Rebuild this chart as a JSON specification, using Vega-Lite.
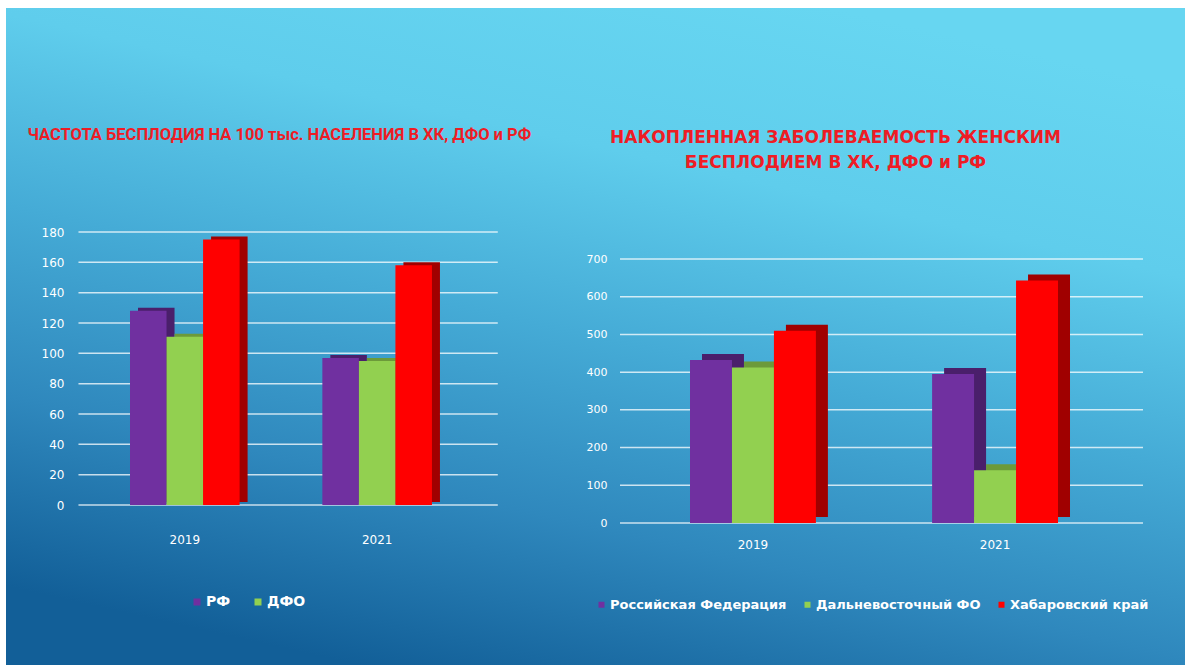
{
  "$schema": "https://vega.github.io/schema/vega-lite/v6.json",
  "width": 1179,
  "height": 657,
  "autosize": {"type": "none"},
  "padding": {"left": 6, "top": 8, "right": 4, "bottom": 1},
  "background": "white",
  "view": {
    "stroke": null,
    "fill": {
      "gradient": "linear",
      "x1": 0.7, "y1": 0, "x2": 0.3, "y2": 1,
      "stops": [
        {"offset": 0, "color": "#67d6f1"},
        {"offset": 0.25, "color": "#5fcdec"},
        {"offset": 0.5, "color": "#45abd6"},
        {"offset": 0.75, "color": "#2f88bd"},
        {"offset": 1, "color": "#125f98"}
      ]
    }
  },
  "config": {
    "axis": {
      "domain": false, "ticks": false, "grid": false,
      "labelColor": "white", "labelFont": "DejaVu Sans", "labelFontSize": 12,
      "labelPadding": 6
    },
    "legend": {
      "labelColor": "white", "labelFont": "DejaVu Sans", "labelFontWeight": "bold", "labelLimit": 0,
      "symbolType": "square", "symbolStrokeWidth": 0, "title": null
    }
  },
  "datasets": {
    "bars": [
      {"chart": "L", "year": "2019", "series": "РФ", "value": 128},
      {"chart": "L", "year": "2019", "series": "ДФО", "value": 111},
      {"chart": "L", "year": "2019", "series": "ХК", "value": 175},
      {"chart": "L", "year": "2021", "series": "РФ", "value": 97},
      {"chart": "L", "year": "2021", "series": "ДФО", "value": 95},
      {"chart": "L", "year": "2021", "series": "ХК", "value": 158},
      {"chart": "R", "year": "2019", "series": "Российская Федерация", "value": 432},
      {"chart": "R", "year": "2019", "series": "Дальневосточный ФО", "value": 412},
      {"chart": "R", "year": "2019", "series": "Хабаровский край", "value": 510},
      {"chart": "R", "year": "2021", "series": "Российская Федерация", "value": 395},
      {"chart": "R", "year": "2021", "series": "Дальневосточный ФО", "value": 140},
      {"chart": "R", "year": "2021", "series": "Хабаровский край", "value": 643}
    ],
    "grid": [
      {"chart": "L", "g": 0}, {"chart": "L", "g": 20}, {"chart": "L", "g": 40}, {"chart": "L", "g": 60},
      {"chart": "L", "g": 80}, {"chart": "L", "g": 100}, {"chart": "L", "g": 120}, {"chart": "L", "g": 140},
      {"chart": "L", "g": 160}, {"chart": "L", "g": 180},
      {"chart": "R", "g": 0}, {"chart": "R", "g": 100}, {"chart": "R", "g": 200}, {"chart": "R", "g": 300},
      {"chart": "R", "g": 400}, {"chart": "R", "g": 500}, {"chart": "R", "g": 600}, {"chart": "R", "g": 700}
    ]
  },
  "layer": [
    {
      "layer": [
        {
          "data": {"name": "grid"},
          "transform": [{"filter": "datum.chart === 'L'"}],
          "mark": {"type": "rule", "color": "white", "strokeWidth": 1.5, "opacity": 0.75},
          "encoding": {
            "y": {"field": "g", "type": "quantitative",
              "scale": {"domain": [0, 180], "range": [497, 224], "nice": false, "zero": true},
              "axis": {"orient": "left", "offset": -64, "values": [0, 20, 40, 60, 80, 100, 120, 140, 160, 180],
                "title": "ЧАСТОТА БЕСПЛОДИЯ НА 100 тыс. НАСЕЛЕНИЯ В ХК, ДФО и РФ",
                "titleAngle": 0, "titleX": -43, "titleY": 126, "titleAlign": "left", "titleBaseline": "middle",
                "titleColor": "#ee1c25", "titleFont": "Roboto", "titleFontSize": 16.5, "titleFontWeight": "bold"}},
            "x": {"datum": "2019", "type": "nominal", "bandPosition": -0.47,
              "scale": {"type": "band", "domain": ["2019", "2021"], "range": [124, 426], "paddingInner": 0.43, "paddingOuter": 0},
              "axis": {"orient": "bottom", "offset": -137, "title": null, "labelAngle": 0}},
            "x2": {"datum": "2021", "bandPosition": 1.6}
          }
        },
        {
          "data": {"name": "bars"},
          "transform": [{"filter": "datum.chart === 'L'"}],
          "mark": {"type": "bar", "yOffset": -3, "y2Offset": -3},
          "encoding": {
            "x": {"field": "year", "type": "nominal",
              "scale": {"type": "band", "domain": ["2019", "2021"], "range": [124, 426], "paddingInner": 0.43, "paddingOuter": 0},
              "axis": {"orient": "bottom", "offset": -137, "title": null, "labelAngle": 0}},
            "xOffset": {"field": "series", "type": "nominal",
              "scale": {"type": "band", "domain": ["РФ", "ДФО", "ХК"], "range": [8, 117.6], "paddingInner": 0, "paddingOuter": 0}},
            "y": {"field": "value", "type": "quantitative",
              "scale": {"domain": [0, 180], "range": [497, 224], "nice": false, "zero": true},
              "axis": {"orient": "left", "offset": -64, "values": [0, 20, 40, 60, 80, 100, 120, 140, 160, 180],
                "title": "ЧАСТОТА БЕСПЛОДИЯ НА 100 тыс. НАСЕЛЕНИЯ В ХК, ДФО и РФ",
                "titleAngle": 0, "titleX": -43, "titleY": 126, "titleAlign": "left", "titleBaseline": "middle",
                "titleColor": "#ee1c25", "titleFont": "Roboto", "titleFontSize": 16.5, "titleFontWeight": "bold"}},
            "color": {"field": "series", "type": "nominal",
              "scale": {"domain": ["РФ", "ДФО", "ХК"], "range": ["#4a1f6b", "#6c9a3a", "#a00000"]},
              "legend": null}
          }
        },
        {
          "data": {"name": "bars"},
          "transform": [{"filter": "datum.chart === 'L'"}],
          "mark": {"type": "bar"},
          "encoding": {
            "x": {"field": "year", "type": "nominal",
              "scale": {"type": "band", "domain": ["2019", "2021"], "range": [124, 426], "paddingInner": 0.43, "paddingOuter": 0},
              "axis": {"orient": "bottom", "offset": -137, "title": null, "labelAngle": 0}},
            "xOffset": {"field": "series", "type": "nominal",
              "scale": {"type": "band", "domain": ["РФ", "ДФО", "ХК"], "range": [0, 109.6], "paddingInner": 0, "paddingOuter": 0}},
            "y": {"field": "value", "type": "quantitative",
              "scale": {"domain": [0, 180], "range": [497, 224], "nice": false, "zero": true},
              "axis": {"orient": "left", "offset": -64, "values": [0, 20, 40, 60, 80, 100, 120, 140, 160, 180],
                "title": "ЧАСТОТА БЕСПЛОДИЯ НА 100 тыс. НАСЕЛЕНИЯ В ХК, ДФО и РФ",
                "titleAngle": 0, "titleX": -43, "titleY": 126, "titleAlign": "left", "titleBaseline": "middle",
                "titleColor": "#ee1c25", "titleFont": "Roboto", "titleFontSize": 16.5, "titleFontWeight": "bold"}},
            "color": {"field": "series", "type": "nominal",
              "scale": {"domain": ["РФ", "ДФО", "ХК"], "range": ["#7030a0", "#92d050", "#ff0000"]},
              "legend": {"values": ["РФ", "ДФО"], "orient": "none", "legendX": 184, "legendY": 587, "direction": "horizontal",
                "labelFontSize": 14, "symbolSize": 49, "labelOffset": 2, "columnPadding": 20}}
          }
        }
      ],
      "resolve": {"scale": {"color": "independent", "xOffset": "independent"}}
    },
    {
      "layer": [
        {
          "data": {"name": "grid"},
          "transform": [{"filter": "datum.chart === 'R'"}],
          "mark": {"type": "rule", "color": "white", "strokeWidth": 1.5, "opacity": 0.75},
          "encoding": {
            "y": {"field": "g", "type": "quantitative",
              "scale": {"domain": [0, 700], "range": [515, 251], "nice": false, "zero": true},
              "axis": {"orient": "left", "offset": -607, "values": [0, 100, 200, 300, 400, 500, 600, 700], "labelFontSize": 11,
                "title": ["НАКОПЛЕННАЯ ЗАБОЛЕВАЕМОСТЬ ЖЕНСКИМ", "БЕСПЛОДИЕМ В ХК, ДФО и РФ"],
                "titleAngle": 0, "titleX": 222, "titleY": 121, "titleAlign": "center", "titleBaseline": "top", "titleLineHeight": 25,
                "titleColor": "#ee1c25", "titleFont": "DejaVu Sans", "titleFontSize": 17, "titleFontWeight": "bold"}},
            "x": {"datum": "2019", "type": "nominal", "bandPosition": -0.556,
              "scale": {"type": "band", "domain": ["2019", "2021"], "range": [684, 1052], "paddingInner": 0.48, "paddingOuter": 0},
              "axis": {"orient": "bottom", "offset": -132, "title": null, "labelAngle": 0}},
            "x2": {"datum": "2021", "bandPosition": 1.675}
          }
        },
        {
          "data": {"name": "bars"},
          "transform": [{"filter": "datum.chart === 'R'"}],
          "mark": {"type": "bar", "yOffset": -6, "y2Offset": -6},
          "encoding": {
            "x": {"field": "year", "type": "nominal",
              "scale": {"type": "band", "domain": ["2019", "2021"], "range": [684, 1052], "paddingInner": 0.48, "paddingOuter": 0},
              "axis": {"orient": "bottom", "offset": -132, "title": null, "labelAngle": 0}},
            "xOffset": {"field": "series", "type": "nominal",
              "scale": {"type": "band", "domain": ["Российская Федерация", "Дальневосточный ФО", "Хабаровский край"], "range": [12, 137.9], "paddingInner": 0, "paddingOuter": 0}},
            "y": {"field": "value", "type": "quantitative",
              "scale": {"domain": [0, 700], "range": [515, 251], "nice": false, "zero": true},
              "axis": {"orient": "left", "offset": -607, "values": [0, 100, 200, 300, 400, 500, 600, 700], "labelFontSize": 11,
                "title": ["НАКОПЛЕННАЯ ЗАБОЛЕВАЕМОСТЬ ЖЕНСКИМ", "БЕСПЛОДИЕМ В ХК, ДФО и РФ"],
                "titleAngle": 0, "titleX": 222, "titleY": 121, "titleAlign": "center", "titleBaseline": "top", "titleLineHeight": 25,
                "titleColor": "#ee1c25", "titleFont": "DejaVu Sans", "titleFontSize": 17, "titleFontWeight": "bold"}},
            "color": {"field": "series", "type": "nominal",
              "scale": {"domain": ["Российская Федерация", "Дальневосточный ФО", "Хабаровский край"], "range": ["#4a1f6b", "#6c9a3a", "#a00000"]},
              "legend": null}
          }
        },
        {
          "data": {"name": "bars"},
          "transform": [{"filter": "datum.chart === 'R'"}],
          "mark": {"type": "bar"},
          "encoding": {
            "x": {"field": "year", "type": "nominal",
              "scale": {"type": "band", "domain": ["2019", "2021"], "range": [684, 1052], "paddingInner": 0.48, "paddingOuter": 0},
              "axis": {"orient": "bottom", "offset": -132, "title": null, "labelAngle": 0}},
            "xOffset": {"field": "series", "type": "nominal",
              "scale": {"type": "band", "domain": ["Российская Федерация", "Дальневосточный ФО", "Хабаровский край"], "range": [0, 125.9], "paddingInner": 0, "paddingOuter": 0}},
            "y": {"field": "value", "type": "quantitative",
              "scale": {"domain": [0, 700], "range": [515, 251], "nice": false, "zero": true},
              "axis": {"orient": "left", "offset": -607, "values": [0, 100, 200, 300, 400, 500, 600, 700], "labelFontSize": 11,
                "title": ["НАКОПЛЕННАЯ ЗАБОЛЕВАЕМОСТЬ ЖЕНСКИМ", "БЕСПЛОДИЕМ В ХК, ДФО и РФ"],
                "titleAngle": 0, "titleX": 222, "titleY": 121, "titleAlign": "center", "titleBaseline": "top", "titleLineHeight": 25,
                "titleColor": "#ee1c25", "titleFont": "DejaVu Sans", "titleFontSize": 17, "titleFontWeight": "bold"}},
            "color": {"field": "series", "type": "nominal",
              "scale": {"domain": ["Российская Федерация", "Дальневосточный ФО", "Хабаровский край"], "range": ["#7030a0", "#92d050", "#ff0000"]},
              "legend": {"orient": "none", "legendX": 589, "legendY": 590, "direction": "horizontal",
                "labelFontSize": 13, "symbolSize": 36, "labelOffset": 2, "columnPadding": 14}}
          }
        }
      ],
      "resolve": {"scale": {"color": "independent", "xOffset": "independent"}}
    }
  ],
  "resolve": {
    "scale": {"x": "independent", "y": "independent", "color": "independent", "xOffset": "independent"},
    "axis": {"x": "independent", "y": "independent"},
    "legend": {"color": "independent"}
  }
}
